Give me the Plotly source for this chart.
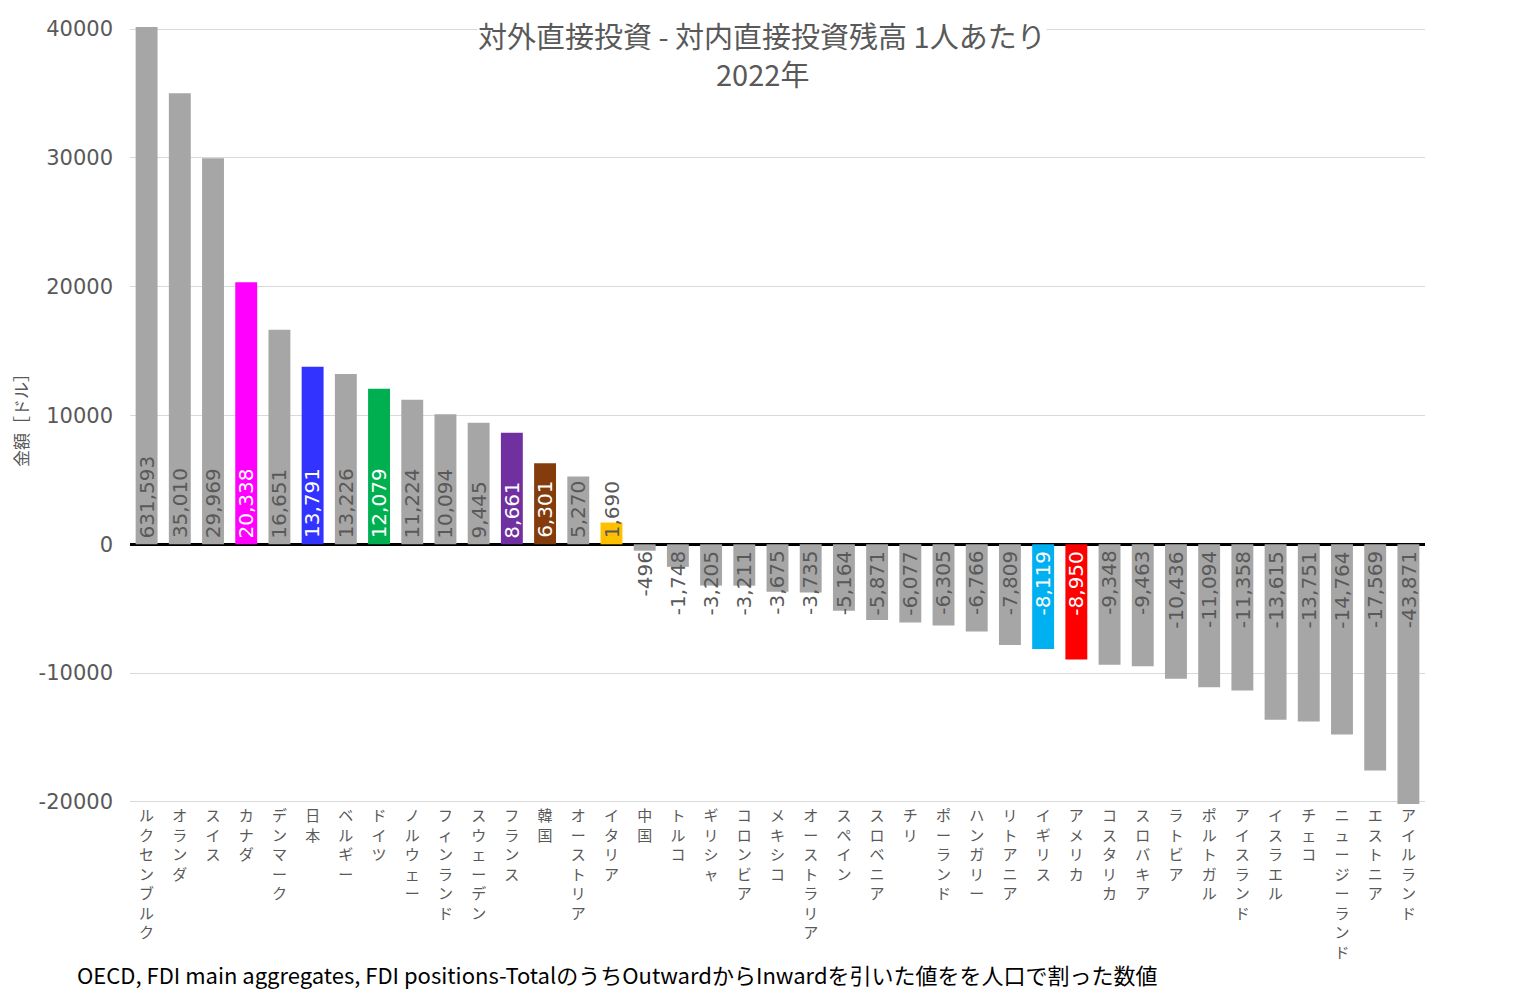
import plotly.graph_objects as go

countries = ["ルクセンブルク", "オランダ", "スイス", "カナダ", "デンマーク", "日本", "ベルギー", "ドイツ",
             "ノルウェー", "フィンランド", "スウェーデン", "フランス", "韓国", "オーストリア", "イタリア",
             "中国", "トルコ", "ギリシャ", "コロンビア", "メキシコ", "オーストラリア", "スペイン", "スロベニア",
             "チリ", "ポーランド", "ハンガリー", "リトアニア", "イギリス", "アメリカ", "コスタリカ", "スロバキア",
             "ラトビア", "ポルトガル", "アイスランド", "イスラエル", "チェコ", "ニュージーランド", "エストニア",
             "アイルランド"]
values = [631593, 35010, 29969, 20338, 16651, 13791, 13226, 12079,
          11224, 10094, 9445, 8661, 6301, 5270, 1690,
          -496, -1748, -3205, -3211, -3675, -3735, -5164, -5871,
          -6077, -6305, -6766, -7809, -8119, -8950, -9348, -9463,
          -10436, -11094, -11358, -13615, -13751, -14764, -17569,
          -43871]
highlight_colors = {"カナダ": "#FF00FF", "日本": "#3333FF", "ドイツ": "#00B050", "フランス": "#7030A0",
                    "韓国": "#843C0C", "イタリア": "#FFC000", "イギリス": "#00B0F0", "アメリカ": "#FF0000"}
base_color = "#A6A6A6"
title_line1 = "対外直接投資 - 対内直接投資残高 1人あたり"
title_line2 = "2022年"
y_title = "金額［ドル］"
note = "OECD, FDI main aggregates, FDI positions-TotalのうちOutwardからInwardを引いた値をを人口で割った数値"
y_ticks = [-20000, -10000, 0, 10000, 20000, 30000, 40000]

FONT = "Noto Sans CJK JP, Noto Sans, sans-serif"
NUM_FONT = "DejaVu Sans, Noto Sans CJK JP, sans-serif"
GRAY = "#595959"

colors = [highlight_colors.get(c, base_color) for c in countries]

fig = go.Figure(go.Bar(x=countries, y=values, marker=dict(color=colors, line=dict(width=0)),
                       hoverinfo="x+y"))

def vertical(name):
    return "<br>".join(name)

annotations = []
for c, v in zip(countries, values):
    txt_color = "#FFFFFF" if (c in highlight_colors and c != "イタリア") else GRAY
    annotations.append(dict(x=c, y=0, xref="x", yref="y", text=f"{v:,}", textangle=-90,
                            showarrow=False, yanchor="bottom" if v > 0 else "top",
                            yshift=4 if v > 0 else -5,
                            font=dict(family=NUM_FONT, size=20, color=txt_color)))

# page is offset by 8px body margin; plot area on screen: x 130..1425, y 27..804
W, H = 1526, 997
left, right, top, bottom = 122, 1417, 19, 796
plot_w, plot_h = right - left, bottom - top
off = 8

def px(xs):
    return (xs - off - left) / plot_w

def py(ys):
    return 1 - (ys - off - top) / plot_h

annotations.append(dict(xref="paper", yref="paper", x=px(762), y=py(35),
                        xanchor="center", yanchor="middle", text=title_line1, showarrow=False,
                        bgcolor="white", borderpad=0, font=dict(family=FONT, size=29, color=GRAY)))
annotations.append(dict(xref="paper", yref="paper", x=px(762), y=py(73),
                        xanchor="center", yanchor="middle", text=title_line2, showarrow=False,
                        font=dict(family=FONT, size=29, color=GRAY)))
annotations.append(dict(xref="paper", yref="paper", x=px(21), y=py(416), textangle=-90,
                        xanchor="center", yanchor="middle", text=y_title, showarrow=False,
                        font=dict(family=FONT, size=17, color=GRAY)))
annotations.append(dict(xref="paper", yref="paper", x=px(75), y=py(974),
                        xanchor="left", yanchor="middle", text=note, showarrow=False,
                        font=dict(family=FONT, size=22, color="#000000")))

fig.update_layout(
    width=W, height=H,
    margin=dict(l=left, r=W - right, t=top, b=H - bottom, autoexpand=False),
    paper_bgcolor="white", plot_bgcolor="white",
    bargap=0.34, showlegend=False,
    font=dict(family=FONT, color=GRAY),
    annotations=annotations,
    xaxis=dict(tickmode="array", tickvals=countries, ticktext=[vertical(c) for c in countries],
               tickfont=dict(family=FONT, size=15, color=GRAY), ticks="", showgrid=False,
               showline=False, tickangle=0, automargin=False, ticklabelstandoff=1),
    yaxis=dict(range=[-20160, 40160], tickmode="array", tickvals=y_ticks,
               ticktext=[str(t) for t in y_ticks], showgrid=True, gridcolor="#D9D9D9",
               gridwidth=1, zeroline=True, zerolinecolor="#000000", zerolinewidth=3, showline=False,
               tickfont=dict(family=NUM_FONT, size=21, color=GRAY), ticklabelstandoff=16,
               automargin=False),
)

fig.write_html("out.html")
